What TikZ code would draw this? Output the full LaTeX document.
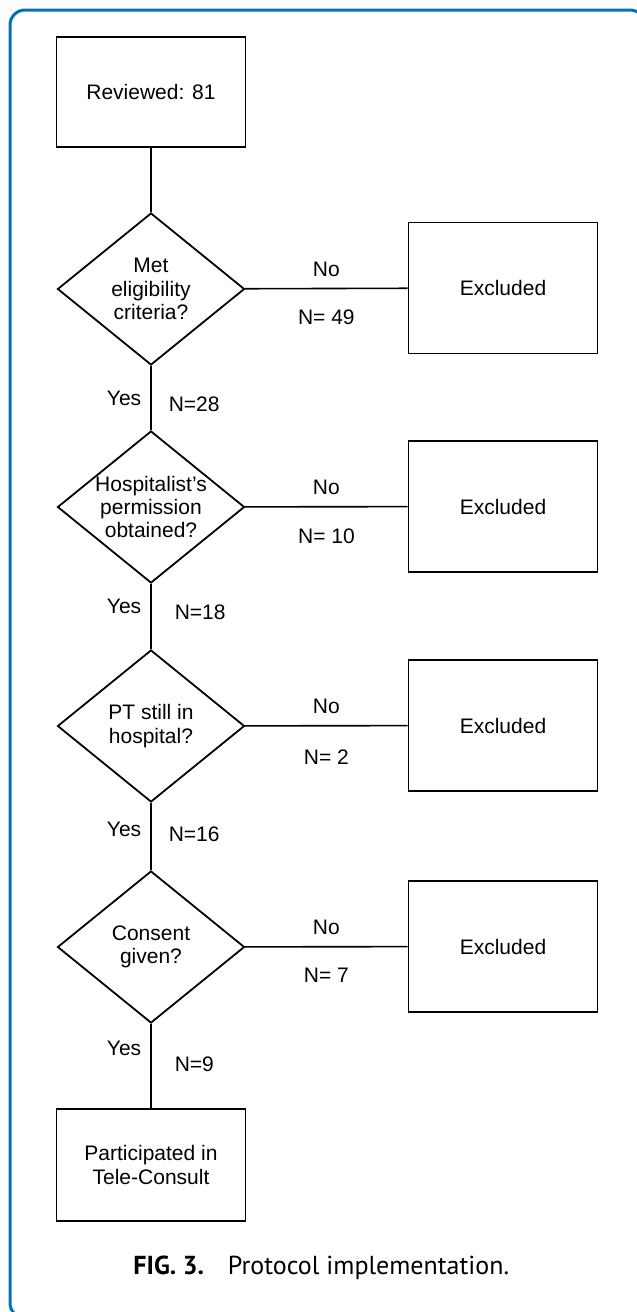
\documentclass[tikz,border=0pt]{standalone}
\usepackage{fontspec}
\setmainfont{Liberation Sans}
\newfontfamily\capfont{PT Sans}
\usepackage{tikz}
\usetikzlibrary{shapes.geometric,positioning}
\definecolor{frameblue}{RGB}{0,115,176}

\begin{document}
\begin{tikzpicture}[x=0.5pt,y=-0.5pt,
        every node/.style={font=\fontsize{10.5}{11.6}\selectfont},
        box/.style={draw,line width=0.9pt,minimum width=94.5pt,inner sep=0pt,align=center},
        decision/.style={draw,diamond,line width=0.9pt,minimum width=93.5pt,minimum height=76pt,inner sep=0pt},
        qtext/.style={align=center,inner sep=0pt},
        link/.style={line width=0.8pt},
        lab/.style={inner sep=0pt}]
        \useasboundingbox (0,0) rectangle (637,1312);
        \draw[frameblue,line width=1.5pt,rounded corners=7.5pt] (10,10) rectangle (645,1318);

        % main column
        \node[box,minimum height=55pt] (rev) at (151,92) {Reviewed: 81};
        \node[decision] (elig) at (151,289) {};
        \node[qtext] (eligtxt) at (elig) {Met\\eligibility\\criteria?};
        \node[decision] (perm) at (151,507) {};
        \node[qtext] (permtxt) at (perm) {Hospitalist's\\permission\\obtained?};
        \node[decision] (still) at (151,726) {};
        \node[qtext] (stilltxt) at (still) {PT still in\\hospital?};
        \node[decision] (cons) at (151,947) {};
        \node[qtext] (constxt) at (cons) {Consent\\given?};
        \node[box,minimum height=56pt] (part) at (151,1165) {Participated in\\Tele-Consult};

        % excluded column
        \node[box,minimum height=65.5pt] (exelig) at (503,288) {Excluded};
        \node[box,minimum height=65.5pt] (experm) at (503,506.5) {Excluded};
        \node[box,minimum height=65.5pt] (exstill) at (503,725.5) {Excluded};
        \node[box,minimum height=65.5pt] (excons) at (503,946.5) {Excluded};

        \draw[link] (rev) -- (elig);
        \draw[link] (elig) -- node[lab,pos=0.5,left=4.5pt] {Yes} node[lab,pos=0.59,right=8.5pt] {N=28} (perm);
        \draw[link] (perm) -- node[lab,pos=0.35,left=4.5pt] {Yes} node[lab,pos=0.43,right=11.5pt] {N=18} (still);
        \draw[link] (still) -- node[lab,pos=0.4,left=4.5pt] {Yes} node[lab,pos=0.46,right=8.5pt] {N=16} (cons);
        \draw[link] (cons) -- node[lab,pos=0.29,left=4.5pt] {Yes} node[lab,pos=0.48,right=11.5pt] {N=9} (part);

        \draw[link] (elig) -- node[lab,yshift=9.5pt] {No} node[lab,yshift=-14.5pt] {N= 49} (exelig);
        \draw[link] (perm) -- node[lab,yshift=9.5pt] {No} node[lab,yshift=-15pt] {N= 10} (experm);
        \draw[link] (still) -- node[lab,yshift=9.5pt] {No} node[lab,yshift=-15.5pt] {N= 2} (exstill);
        \draw[link] (cons) -- node[lab,yshift=9.5pt] {No} node[lab,yshift=-14.5pt] {N= 7} (excons);

        % caption
        \node[lab,anchor=base west,font=\capfont\fontsize{13}{15}\selectfont] (cap) at (133,1274) {\textbf{FIG. 3.}\hspace{12pt}Protocol implementation.};
    \end{tikzpicture}
\end{document}
